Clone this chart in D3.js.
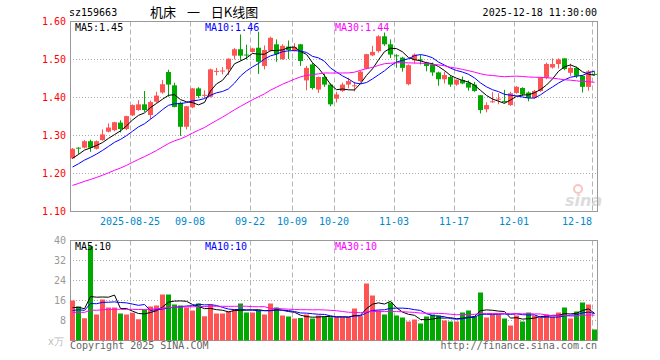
<!DOCTYPE html>
<html>
<head>
<meta charset="utf-8">
<script src="https://cdn.jsdelivr.net/npm/d3@7"></script>
<style>
  body { margin: 0; background: #fff; }
  text { font-family: "DejaVu Sans Mono", monospace; font-size: 10px; }
</style>
</head>
<body>
<svg id="chart" width="660" height="360"></svg>
<script>
// trading days shown (2025)
const dates = [
  "08-11","08-12","08-13","08-14","08-15","08-18","08-19","08-20","08-21","08-22",
  "08-25","08-26","08-27","08-28","08-29","09-01","09-02","09-03","09-04","09-05",
  "09-08","09-09","09-10","09-11","09-12","09-15","09-16","09-17","09-18","09-19",
  "09-22","09-23","09-24","09-25","09-26","09-29","09-30","10-09","10-10","10-13",
  "10-14","10-15","10-16","10-17","10-20","10-21","10-22","10-23","10-24","10-27",
  "10-28","10-29","10-30","10-31","11-03","11-04","11-05","11-06","11-07","11-10",
  "11-11","11-12","11-13","11-14","11-17","11-18","11-19","11-20","11-21","11-24",
  "11-25","11-26","11-27","11-28","12-01","12-02","12-03","12-04","12-05","12-08",
  "12-09","12-10","12-11","12-12","12-15","12-16","12-17","12-18"
];

const opens = [
  1.240,1.268,1.268,1.285,1.265,1.288,1.310,1.314,1.334,1.317,
  1.353,1.367,1.382,1.354,1.389,1.413,1.467,1.432,1.386,1.323,
  1.374,1.424,1.405,1.402,1.468,1.470,1.474,1.510,1.527,1.513,
  1.520,1.531,1.483,1.523,1.540,1.501,1.534,1.523,1.540,1.445,
  1.487,1.421,1.454,1.434,1.397,1.417,1.434,1.430,1.443,1.476,
  1.511,1.522,1.561,1.540,1.511,1.505,1.435,1.498,1.500,1.492,
  1.487,1.466,1.448,1.454,1.434,1.446,1.439,1.434,1.406,1.369,
  1.388,1.395,1.391,1.380,1.412,1.425,1.413,1.399,1.417,1.452,
  1.479,1.488,1.503,1.465,1.478,1.457,1.428,1.462
];
const highs = [
  1.267,1.269,1.288,1.289,1.287,1.316,1.332,1.336,1.340,1.352,
  1.382,1.393,1.417,1.392,1.415,1.446,1.473,1.439,1.389,1.378,
  1.425,1.427,1.419,1.476,1.478,1.480,1.503,1.530,1.566,1.539,
  1.531,1.573,1.537,1.560,1.553,1.540,1.550,1.543,1.541,1.483,
  1.491,1.455,1.463,1.437,1.415,1.439,1.452,1.441,1.470,1.515,
  1.536,1.564,1.571,1.553,1.514,1.507,1.487,1.516,1.512,1.494,
  1.492,1.468,1.468,1.458,1.447,1.455,1.445,1.441,1.406,1.387,
  1.414,1.411,1.420,1.415,1.430,1.427,1.416,1.420,1.453,1.492,
  1.503,1.503,1.503,1.489,1.481,1.459,1.472,1.469
];
const lows = [
  1.238,1.251,1.266,1.257,1.263,1.286,1.308,1.311,1.308,1.314,
  1.351,1.365,1.362,1.343,1.386,1.410,1.402,1.374,1.299,1.316,
  1.372,1.398,1.398,1.400,1.458,1.461,1.459,1.500,1.497,1.500,
  1.518,1.462,1.474,1.521,1.494,1.499,1.501,1.521,1.483,1.419,
  1.421,1.412,1.428,1.377,1.387,1.415,1.424,1.416,1.441,1.474,
  1.509,1.518,1.536,1.504,1.478,1.468,1.432,1.489,1.487,1.469,
  1.457,1.431,1.437,1.428,1.431,1.435,1.418,1.415,1.358,1.361,
  1.386,1.382,1.386,1.378,1.410,1.404,1.390,1.397,1.415,1.448,
  1.476,1.476,1.472,1.457,1.451,1.413,1.418,1.458
];
const closes = [
  1.265,1.266,1.285,1.268,1.285,1.303,1.321,1.335,1.317,1.351,
  1.380,1.382,1.367,1.388,1.405,1.435,1.434,1.375,1.323,1.377,
  1.424,1.404,1.407,1.474,1.470,1.471,1.502,1.527,1.510,1.511,
  1.529,1.494,1.525,1.557,1.514,1.536,1.525,1.533,1.496,1.478,
  1.425,1.454,1.434,1.382,1.408,1.434,1.443,1.432,1.468,1.514,
  1.520,1.561,1.540,1.513,1.509,1.478,1.485,1.513,1.498,1.483,
  1.466,1.448,1.459,1.434,1.447,1.437,1.426,1.417,1.367,1.380,
  1.390,1.397,1.389,1.411,1.428,1.408,1.399,1.417,1.452,1.488,
  1.488,1.500,1.475,1.478,1.457,1.428,1.469,1.460
];
// volume, 万手
const volumes = [
  16.0,13.6,8.9,37.7,10.4,16.4,13.2,13.2,10.8,10.4,
  11.1,8.5,12.4,13.6,14.0,18.4,18.4,14.4,14.0,13.2,
  12.0,14.8,9.7,14.4,10.8,10.8,11.6,12.4,14.8,11.2,
  11.2,12.0,10.4,14.8,13.2,10.0,9.6,8.8,9.0,10.4,
  8.8,10.0,9.6,9.3,9.3,9.3,9.3,12.8,9.7,22.8,
  18.0,12.0,10.4,15.2,10.0,9.2,7.6,8.4,6.8,9.6,
  10.4,10.0,8.0,7.6,7.6,11.2,12.0,9.6,19.2,9.2,
  10.4,10.4,8.8,6.0,10.0,7.6,11.2,10.0,9.2,10.4,
  9.6,11.2,13.2,8.8,11.6,15.2,14.4,4.4
];
// sessions before the window, only needed for the moving averages
const prevCloses = [
  1.112,1.118,1.121,1.125,1.128,1.131,1.135,1.138,1.140,1.143,
  1.146,1.150,1.153,1.156,1.158,1.161,1.163,1.167,1.171,1.174,
  1.180,1.188,1.195,1.200,1.207,1.215,1.228,1.240,1.252
];
const prevVolumes = [
  9.8,11.5,10.2,12.0,10.6,9.9,11.3,10.4,11.8,10.1,
  10.7,11.6,9.7,10.9,11.2,10.3,11.4,10.0,11.1,11.5,
  10.5,11.5,10.2,11.3,11.0,12.6,11.9,13.2,11.8
];

const tickDates = ["08-25","09-08","09-22","10-09","10-20","11-03","11-17","12-01","12-18"];
const tickLabels = ["2025-08-25","09-08","09-22","10-09","10-20","11-03","11-17","12-01","12-18"];
const priceTicks = [1.10, 1.20, 1.30, 1.40, 1.50, 1.60];
const volTicks = [8, 16, 24, 32, 40];
const maPeriods = [5, 10, 30];
const maColors = ["#000000", "#0000ff", "#ff00ff"];
const priceMaLabels = ["MA5:1.45", "MA10:1.46", "MA30:1.44"];
const volMaLabels = ["MA5:10", "MA10:10", "MA30:10"];

const UP = "#ff5454", DOWN = "#00a800";

const svg = d3.select("#chart");
svg.append("rect").attr("width", 660).attr("height", 360).attr("fill", "#fff");

const x = d3.scaleBand().domain(dates).range([70, 598]);
const y = d3.scaleLinear().domain([1.1, 1.6]).range([211.5, 21.5]);
const yv = d3.scaleLinear().domain([0, 40]).range([340.5, 240.5]);
const bw = 5;

function movingAvg(prev, vals, n) {
  const all = prev.concat(vals);
  return vals.map((_, i) => d3.mean(all.slice(prev.length + i - n + 1, prev.length + i + 1)));
}

// header
svg.append("text").attr("x", 69).attr("y", 16).text("sz159663");
svg.append("text").attr("x", 150).attr("y", 17)
  .style("font-family", "'Noto Sans CJK SC'").style("font-size", "13px")
  .attr("word-spacing", 8).text("机床 一 日K线图");
svg.append("text").attr("x", 597).attr("y", 16).attr("text-anchor", "end").text("2025-12-18 11:30:00");

// grid
function grid(top, bottom, yScale, hTicks) {
  const g = svg.append("g");
  g.selectAll(".h").data(hTicks).join("line")
    .attr("x1", 70).attr("x2", 598)
    .attr("y1", d => yScale(d)).attr("y2", d => yScale(d))
    .attr("stroke", "#aaa").attr("stroke-dasharray", "1,2");
  g.selectAll(".v").data(tickDates).join("line")
    .attr("x1", d => x(d) + 0.5).attr("x2", d => x(d) + 0.5)
    .attr("y1", top).attr("y2", bottom)
    .attr("stroke", "#b4b4b4").attr("stroke-dasharray", "5,3");
  svg.append("rect").attr("x", 70.5).attr("y", top).attr("width", 527).attr("height", bottom - top)
    .attr("fill", "none").attr("stroke", "#999");
}
grid(21.5, 211.5, y, [1.2, 1.3, 1.4, 1.5]);
grid(240.5, 340.5, yv, [8, 16, 24, 32]);

// sina watermark
const wm = svg.append("g").attr("opacity", 0.4);
wm.append("circle").attr("cx", 578).attr("cy", 189).attr("r", 4).attr("fill", "none").attr("stroke", "#f07070").attr("stroke-width", 2);
wm.append("text").attr("x", 565).attr("y", 206)
  .style("font-family", "'DejaVu Sans'").style("font-size", "16px").style("font-style", "italic").style("font-weight", "bold")
  .attr("fill", "#aaa").text("sina");

// candles
const candles = svg.append("g");
dates.forEach((d, i) => {
  const up = closes[i] >= opens[i];
  const col = up ? UP : DOWN;
  const cx = x(d) + 2.5;
  candles.append("line").attr("x1", cx).attr("x2", cx)
    .attr("y1", y(highs[i])).attr("y2", y(lows[i])).attr("stroke", col);
  const top = y(Math.max(opens[i], closes[i]));
  const bot = y(Math.min(opens[i], closes[i]));
  candles.append("rect").attr("x", x(d)).attr("y", top)
    .attr("width", bw).attr("height", Math.max(1, bot - top)).attr("fill", col);
});

// volume bars
svg.append("g").selectAll("rect").data(dates).join("rect")
  .attr("x", d => x(d)).attr("width", bw)
  .attr("y", (d, i) => yv(volumes[i]))
  .attr("height", (d, i) => yv(0) - yv(volumes[i]))
  .attr("fill", (d, i) => closes[i] >= opens[i] ? UP : DOWN);

// moving averages
const line = scale => d3.line().x((v, i) => x(dates[i]) + 2.5).y(v => scale(v));
maPeriods.forEach((n, k) => {
  svg.append("path").datum(movingAvg(prevCloses, closes, n))
    .attr("d", line(y)).attr("fill", "none").attr("stroke", maColors[k]).attr("stroke-width", 1);
  svg.append("path").datum(movingAvg(prevVolumes, volumes, n))
    .attr("d", line(yv)).attr("fill", "none").attr("stroke", maColors[k]).attr("stroke-width", 1);
});

// MA legends
const legendX = [75, 205, 335];
priceMaLabels.forEach((t, k) => {
  svg.append("text").attr("x", legendX[k]).attr("y", 31).attr("fill", maColors[k]).text(t);
});
volMaLabels.forEach((t, k) => {
  svg.append("text").attr("x", legendX[k]).attr("y", 250).attr("fill", maColors[k]).text(t);
});

// axes
const yAxis = svg.append("g").attr("transform", "translate(70,0)")
  .call(d3.axisLeft(y).tickValues(priceTicks).tickFormat(d3.format(".2f")).tickSize(0).tickPadding(4));
yAxis.select(".domain").remove();
yAxis.selectAll("text").attr("fill", "#ff0000").style("font-family", "'DejaVu Sans Mono'").style("font-size", "10px");

const vAxis = svg.append("g").attr("transform", "translate(70,0)")
  .call(d3.axisLeft(yv).tickValues(volTicks).tickFormat(d3.format("d")).tickSize(0).tickPadding(4));
vAxis.select(".domain").remove();
vAxis.selectAll("text").attr("fill", "#999").style("font-family", "'DejaVu Sans Mono'").style("font-size", "10px");

const xAxis = svg.append("g").attr("transform", `translate(${-x.bandwidth() / 2},215)`)
  .call(d3.axisBottom(x).tickValues(tickDates).tickFormat((d, i) => tickLabels[i]).tickSize(0).tickPadding(3));
xAxis.select(".domain").remove();
xAxis.selectAll("text").attr("fill", "#0088cc").style("font-family", "'DejaVu Sans Mono'").style("font-size", "10px");
// last label is kept inside the plot
xAxis.selectAll(".tick").filter((d, i, n) => i === n.length - 1).select("text")
  .attr("text-anchor", "end").attr("x", 0);

// footer
svg.append("text").attr("x", 64).attr("y", 345).attr("text-anchor", "end").attr("fill", "#bbb").text("x万");
svg.append("text").attr("x", 70).attr("y", 349).attr("fill", "#666").text("Copyright 2025 SINA.COM");
svg.append("text").attr("x", 597).attr("y", 349).attr("text-anchor", "end").attr("fill", "#666").text("http://finance.sina.com.cn");
</script>
</body>
</html>
